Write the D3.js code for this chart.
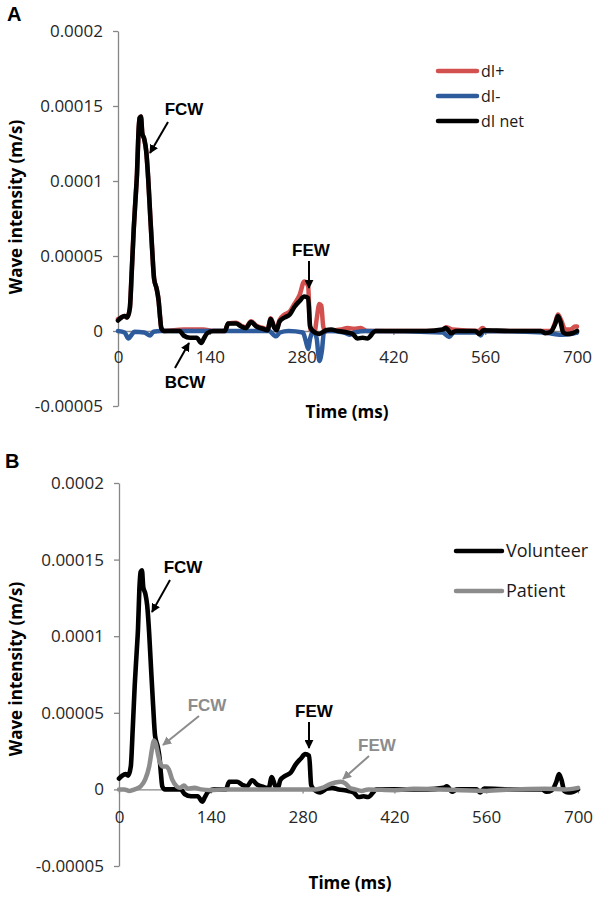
<!DOCTYPE html>
<html><head><meta charset="utf-8">
<script src="https://cdn.jsdelivr.net/npm/d3@7"></script>
<style>body{margin:0;background:#fff}</style>
</head><body>
<script>
// ---------- DATA ----------
const xTicks = [0, 140, 280, 420, 560, 700];
const xTickLabels = ["0", "140", "280", "420", "560", "700"];
const yTicks = [-0.00005, 0, 0.00005, 0.0001, 0.00015, 0.0002];
const yTickLabels = ["-0.00005", "0", "0.00005", "0.0001", "0.00015", "0.0002"];

// Panel A: dI net (also the Volunteer curve in panel B)
const netT = [0,5,10,14,18,21,24,27,29,31,33,35,37,40,43,46,49,52,55,59,62,64,66,70,80,94,100,110,120,127,131,136,145,163,168,180,188,195,203,211,221,228,233,238,242,246,254,262,269,277,284,290,293,297,307,317,325,335,350,358,365,373,380,393,430,470,495,500,508,515,545,551,557,600,645,652,660,667,671,675,679,685,693,700];
const netV = [0.7e-5,0.9e-5,1.0e-5,0.9e-5,1.5e-5,4.0e-5,6.8e-5,9.0e-5,10.5e-5,13.0e-5,14.2e-5,14.3e-5,13.2e-5,12.8e-5,12.0e-5,10.2e-5,7.8e-5,5.5e-5,3.5e-5,2.8e-5,2.0e-5,1.0e-5,0.2e-5,0,0,0,-0.3e-5,-0.45e-5,-0.45e-5,-0.8e-5,-0.5e-5,-0.15e-5,0,0,0.5e-5,0.5e-5,0.3e-5,0.2e-5,0.6e-5,0.3e-5,0.15e-5,0.05e-5,0.8e-5,0.25e-5,0.05e-5,0.6e-5,0.9e-5,1.1e-5,1.6e-5,2.0e-5,2.3e-5,2.2e-5,0.3e-5,0,-0.2e-5,0.05e-5,0.1e-5,0,-0.1e-5,-0.2e-5,-0.5e-5,-0.45e-5,-0.5e-5,0,0,0,0.1e-5,0.2e-5,-0.15e-5,0,0,-0.2e-5,0.05e-5,0,0,-0.15e-5,-0.05e-5,0.5e-5,1.0e-5,0.6e-5,-0.1e-5,-0.2e-5,-0.15e-5,0];

// Panel A: dI+
const plusT = [0,5,10,14,18,21,24,27,29,31,33,35,37,40,43,46,49,52,55,59,62,64,66,70,100,130,145,163,168,180,188,195,203,211,221,228,233,238,242,246,254,262,269,277,284,290,293,300,303,307,310,313,316,340,350,360,370,380,495,500,510,550,556,562,660,667,671,676,682,690,697,700];
const plusV = [0.8e-5,0.9e-5,1.0e-5,0.9e-5,1.5e-5,4.0e-5,6.8e-5,9.0e-5,10.5e-5,13.0e-5,14.2e-5,14.3e-5,13.2e-5,12.8e-5,12.0e-5,10.2e-5,7.8e-5,5.5e-5,3.5e-5,2.8e-5,2.0e-5,1.0e-5,0.2e-5,0,0.1e-5,0.1e-5,0,0,0.5e-5,0.55e-5,0.35e-5,0.25e-5,0.65e-5,0.35e-5,0.2e-5,0.1e-5,0.85e-5,0.3e-5,0.1e-5,0.7e-5,1.1e-5,1.3e-5,1.8e-5,2.4e-5,3.3e-5,3.0e-5,0.1e-5,0,0.8e-5,1.8e-5,1.7e-5,0.3e-5,0,0.1e-5,0.2e-5,0.15e-5,0.2e-5,0,0,0.25e-5,0.1e-5,0,0.2e-5,0,0,0.6e-5,1.1e-5,0.7e-5,0.1e-5,0.1e-5,0.3e-5,0.3e-5];

// Panel A: dI-
const minusT = [0,10,16,20,25,40,49,54,65,230,241,247,260,282,286,290,293,298,303,307,311,314,320,345,353,360,380,495,505,512,548,553,558,650,665,678,690,700];
const minusV = [0,-0.1e-5,-0.5e-5,-0.3e-5,-0.05e-5,-0.1e-5,-0.3e-5,-0.05e-5,0,0,-0.35e-5,-0.1e-5,0,-0.1e-5,-0.6e-5,-1.2e-5,-0.5e-5,0,-0.5e-5,-2.0e-5,-1.3e-5,-0.1e-5,0,-0.1e-5,-0.25e-5,-0.1e-5,0,-0.1e-5,-0.4e-5,-0.1e-5,-0.1e-5,-0.3e-5,0,-0.1e-5,-0.2e-5,-0.25e-5,-0.2e-5,-0.1e-5];

// Panel B
const volunteerT = netT;
const volunteerV = netV;
const patientT = [0,8,16,24,33,40,46,51,53,56,59,63,67,72,76,81,88,93,99,105,115,125,140,160,300,310,322,330,338,345,352,360,370,380,420,450,560,600,650,680,700];
const patientV = [0,0,-0.1e-5,0,0.2e-5,0.65e-5,1.5e-5,2.8e-5,3.2e-5,3.0e-5,2.4e-5,1.7e-5,1.5e-5,1.5e-5,1.3e-5,0.65e-5,0.2e-5,0.1e-5,0.25e-5,0.05e-5,0.1e-5,0,-0.05e-5,0,0,0.1e-5,0.35e-5,0.45e-5,0.5e-5,0.4e-5,0.1e-5,0,-0.1e-5,0,-0.05e-5,0.05e-5,-0.1e-5,0,0.05e-5,0,0.1e-5];

const legendA = ["dI+", "dI-", "dI net"];
const legendB = ["Volunteer", "Patient"];

// ---------- DRAW ----------
const svg = d3.select("body").append("svg").attr("width", 600).attr("height", 897);
const axisColor = "#868686";
const tickFont = "'Open Sans', sans-serif";

const defs = svg.append("defs");
function marker(id, color) {
  defs.append("marker").attr("id", id).attr("viewBox", "0 0 10 10")
    .attr("refX", 9).attr("refY", 5).attr("markerWidth", 4.5).attr("markerHeight", 4.5)
    .attr("orient", "auto").attr("markerUnits", "strokeWidth")
    .append("path").attr("d", "M0,0 L10,5 L0,10 z").attr("fill", color);
}
marker("ahBlack", "#000");
marker("ahGray", "#8c8c8c");

function panel(cfg) {
  const g = svg.append("g");
  const x = d3.scaleLinear().domain([0, 700]).range([cfg.x0, cfg.x1]);
  const y = d3.scaleLinear().domain([-0.00005, 0.0002]).range([cfg.yBot, cfg.yTop]);

  const ya = g.append("g").attr("transform", `translate(${cfg.x0},0)`)
    .call(d3.axisLeft(y).tickValues(yTicks).tickFormat(d => yTickLabels[yTicks.indexOf(d)])
      .tickSize(5).tickSizeOuter(0).tickPadding(10));
  const xa = g.append("g").attr("transform", `translate(0,${y(0)})`)
    .call(d3.axisBottom(x).tickValues(xTicks).tickFormat(d => xTickLabels[xTicks.indexOf(d)])
      .tickSize(4).tickSizeOuter(0).tickPadding(cfg.xPad));
  [ya, xa].forEach(a => {
    a.select(".domain").attr("stroke", axisColor).attr("stroke-width", 1.3);
    a.selectAll(".tick line").attr("stroke", axisColor).attr("stroke-width", 1.3);
    a.selectAll(".tick text").attr("font-family", tickFont).attr("font-size", 17).attr("fill", "#262626");
  });

  const line = d3.line().x(d => x(d[0])).y(d => y(d[1])).curve(d3.curveMonotoneX);
  cfg.series.forEach(s => {
    g.append("path").datum(d3.zip(s.t, s.v)).attr("d", line)
      .attr("fill", "none").attr("stroke", s.color).attr("stroke-width", s.w)
      .attr("stroke-linejoin", "round").attr("stroke-linecap", "round");
  });

  // titles
  g.append("text").attr("x", cfg.letterX).attr("y", cfg.letterY).text(cfg.letter)
    .attr("font-family", "'Liberation Sans', Arial, sans-serif").attr("font-weight", "bold").attr("font-size", 20);
  g.append("text").attr("transform", `translate(${cfg.yTitleX},${cfg.yTitleY}) rotate(-90)`)
    .attr("text-anchor", "middle").text("Wave intensity (m/s)")
    .attr("font-family", tickFont).attr("font-weight", "bold").attr("font-size", 17);
  g.append("text").attr("x", cfg.xTitleX).attr("y", cfg.xTitleY).attr("text-anchor", "middle").text("Time (ms)")
    .attr("font-family", tickFont).attr("font-weight", "bold").attr("font-size", 17);

  // legend
  cfg.legend.forEach((l, i) => {
    const ly = cfg.legY + i * cfg.legStep;
    g.append("line").attr("x1", cfg.legX0).attr("x2", cfg.legX1).attr("y1", ly).attr("y2", ly)
      .attr("stroke", l.color).attr("stroke-width", 4.5).attr("stroke-linecap", "round");
    g.append("text").attr("x", cfg.legX1 + 4).attr("y", ly).attr("dy", "0.35em").text(l.label)
      .attr("font-family", tickFont).attr("font-size", cfg.legFont).attr("fill", "#1a1a1a");
  });

  // annotations
  cfg.notes.forEach(n => {
    g.append("text").attr("x", n.tx).attr("y", n.ty).attr("text-anchor", "middle").text(n.text)
      .attr("font-family", "'Liberation Sans', Arial, sans-serif").attr("font-weight", "bold")
      .attr("font-size", 17).attr("fill", n.color);
    g.append("line").attr("x1", n.ax1).attr("y1", n.ay1).attr("x2", n.ax2).attr("y2", n.ay2)
      .attr("stroke", n.color).attr("stroke-width", 2)
      .attr("marker-end", n.color === "#000" ? "url(#ahBlack)" : "url(#ahGray)");
  });
}

const red = "#d2504e", blue = "#2d5b9c", black = "#000", gray = "#8c8c8c";

panel({
  x0: 118, x1: 577, yTop: 31, yBot: 406, xPad: 16,
  letter: "A", letterX: 7, letterY: 21,
  yTitleX: 22, yTitleY: 207, xTitleX: 347, xTitleY: 418,
  series: [
    {t: plusT, v: plusV, color: red, w: 4.5},
    {t: minusT, v: minusV, color: blue, w: 4.5},
    {t: netT, v: netV, color: black, w: 4.6}
  ],
  legend: [{label: legendA[0], color: red}, {label: legendA[1], color: blue}, {label: legendA[2], color: black}],
  legX0: 438, legX1: 477, legY: 71, legStep: 25, legFont: 16,
  notes: [
    {text: "FCW", tx: 184, ty: 115, color: "#000", ax1: 168, ay1: 122, ax2: 150, ay2: 153},
    {text: "FEW", tx: 311, ty: 256, color: "#000", ax1: 309, ay1: 261, ax2: 309, ay2: 288},
    {text: "BCW", tx: 185, ty: 388, color: "#000", ax1: 175, ay1: 368, ax2: 189, ay2: 343}
  ]
});

panel({
  x0: 119, x1: 578, yTop: 483, yBot: 866, xPad: 18,
  letter: "B", letterX: 5, letterY: 468,
  yTitleX: 22, yTitleY: 669, xTitleX: 350, xTitleY: 889,
  series: [
    {t: volunteerT, v: volunteerV, color: black, w: 4.6},
    {t: patientT, v: patientV, color: gray, w: 4.5}
  ],
  legend: [{label: legendB[0], color: black}, {label: legendB[1], color: gray}],
  legX0: 456, legX1: 502, legY: 551, legStep: 40, legFont: 18,
  notes: [
    {text: "FCW", tx: 183, ty: 573, color: "#000", ax1: 170, ay1: 580, ax2: 152, ay2: 612},
    {text: "FCW", tx: 207, ty: 711, color: gray, ax1: 199, ay1: 716, ax2: 163, ay2: 745},
    {text: "FEW", tx: 314, ty: 717, color: "#000", ax1: 309, ay1: 722, ax2: 309, ay2: 748},
    {text: "FEW", tx: 377, ty: 751, color: gray, ax1: 369, ay1: 756, ax2: 343, ay2: 779}
  ]
});
</script>
</body></html>
